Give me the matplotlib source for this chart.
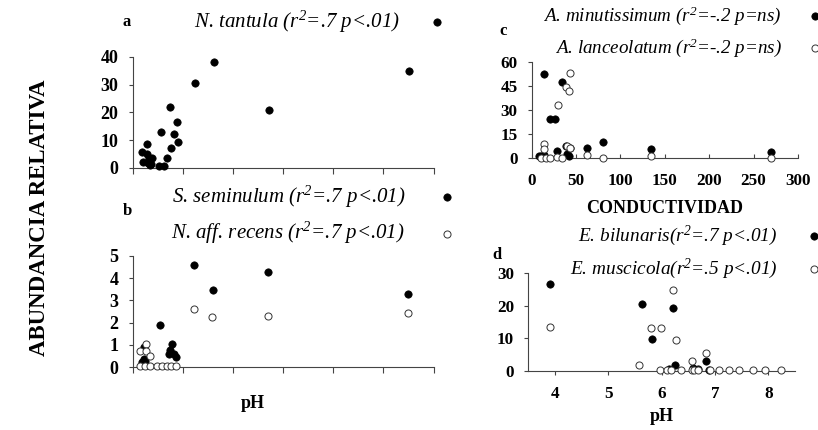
import matplotlib
matplotlib.use('Agg')
import matplotlib.pyplot as plt

plt.rcParams['font.family'] = ['Liberation Serif', 'DejaVu Serif']
plt.rcParams['mathtext.fontset'] = 'custom'
plt.rcParams['mathtext.rm'] = 'Liberation Serif:italic'
plt.rcParams['mathtext.it'] = 'Liberation Serif:italic'

# panel a: N. tantula vs pH
ph_a = [3.19, 3.28, 3.21, 3.29, 3.32, 3.34, 3.39, 3.31, 3.37, 3.52, 3.62, 3.56, 3.68,
        3.75, 3.77, 3.83, 3.88, 3.90, 4.25, 4.63, 5.72, 8.51]
tantula = [5.6, 8.8, 2.0, 5.2, 3.6, 1.0, 3.6, 1.8, 1.6, 0.6, 0.6, 12.9, 3.7,
           22.0, 7.1, 12.3, 16.5, 9.2, 30.6, 38.1, 21.0, 35.1]

# panel b: S. seminulum (filled) / N. aff. recens (open) vs pH
ph_b1 = [3.18, 3.22, 3.24, 3.23, 3.54, 3.73, 3.78, 3.75, 3.83, 3.86, 4.22, 4.60, 5.70, 8.50]
seminulum = [0.23, 0.35, 0.28, 0.9, 1.91, 0.57, 1.02, 0.75, 0.57, 0.45, 4.59, 3.46, 4.26, 3.31]
ph_b2 = [3.14, 3.27, 3.27, 3.35, 3.15, 3.25, 3.35, 3.48, 3.59, 3.68, 3.76, 3.86,
         4.22, 4.59, 5.70, 8.50]
recens = [0.72, 1.05, 0.72, 0.48, 0.03, 0.03, 0.03, 0.03, 0.03, 0.03, 0.03, 0.03,
          2.60, 2.23, 2.29, 2.41]

# panel c: A. minutissimum (filled) / A. lanceolatum (open) vs conductividad
cond_c1 = [14.6, 20.5, 26.7, 34.8, 28.5, 38.8, 43.9, 62.2, 80.5, 134.6, 270, 8.0, 10.5,
           13.9, 39.5, 42.4]
minutissimum = [52.8, 24.2, 24.6, 47.8, 4.1, 7.2, 6.2, 6.2, 9.7, 5.8, 3.5, 1.4, 1.4,
                2.0, 2.7, 1.4]
cond_c2 = [14.6, 13.9, 29.3, 38.4, 42.4, 43.9, 39.5, 43.9, 62.2, 80.5, 134.6, 270,
           10.2, 16.5, 21.2, 28.2, 34.8]
lanceolatum = [8.9, 5.8, 32.9, 44.1, 41.6, 53.4, 7.2, 6.2, 1.7, 0.0, 1.0, 0.2,
               0.0, 0.0, 0.0, 0.6, 0.0]

# panel d: E. bilunaris (filled) / E. muscicola (open) vs pH
ph_d1 = [3.91, 5.63, 5.82, 6.22, 6.26, 6.14, 6.59, 6.68, 6.84, 6.89]
bilunaris = [26.7, 20.5, 9.7, 19.2, 1.9, 0.5, 0.9, 0.7, 3.2, 0.3]
ph_d2 = [3.91, 5.57, 5.80, 5.99, 6.22, 6.27, 6.58, 6.84, 5.97, 6.11, 6.18, 6.36, 6.57,
         6.61, 6.68, 6.91, 7.08, 7.27, 7.46, 7.72, 7.93, 8.23]
muscicola = [13.6, 1.7, 13.3, 13.3, 24.7, 9.6, 3.2, 5.6, 0.4, 0.2, 0.2, 0.2, 0.2,
             0.2, 0.2, 0.2, 0.2, 0.2, 0.2, 0.2, 0.2, 0.2]

W, H = 818, 430
fig = plt.figure(figsize=(W / 100, H / 100), dpi=100)


def px_axes(x0, x1, ytop, ybot):
    return fig.add_axes([x0 / W, 1 - ybot / H, (x1 - x0) / W, (ybot - ytop) / H])


def style(ax, size):
    for s in ['top', 'right']:
        ax.spines[s].set_visible(False)
    for s in ['left', 'bottom']:
        ax.spines[s].set_color('#444444')
        ax.spines[s].set_linewidth(0.8)
    ax.tick_params(labelsize=size, length=3, width=0.8, color='#444444', pad=2)
    ax.tick_params(axis='y', pad=7)
    for lab in ax.get_xticklabels() + ax.get_yticklabels():
        lab.set_fontweight('bold')


filled = dict(marker='o', s=28, c='black', edgecolors='black', linewidths=0.5, clip_on=False, zorder=3)
hollow = dict(marker='o', s=26, facecolors='white', edgecolors='#333333', linewidths=0.7, clip_on=False, zorder=3)


def legend(ax, x, y, size, spacing, pad):
    ax.legend(loc='center right', bbox_to_anchor=(x / W, 1 - y / H), bbox_transform=fig.transFigure,
              frameon=False, markerfirst=False, handlelength=0.6, handletextpad=pad,
              borderpad=0, borderaxespad=0, labelspacing=spacing,
              prop={'family': 'Liberation Serif', 'style': 'italic', 'size': size})


def letter(x, y, s):
    fig.text(x / W, 1 - y / H, s, fontsize=12, fontweight='bold', ha='center', va='center')


# a
ax = px_axes(132.5, 433.5, 57, 168)
ax.scatter(ph_a, tantula, label=r'N. tantula (r$^2$=.7 p<.01)', **filled)
ax.set_xlim(3, 9)
ax.set_ylim(0, 40)
ax.set_yticks([0, 10, 20, 30, 40])
ax.set_xticks([3, 4, 5, 6, 7, 8, 9])
ax.set_xticklabels([])
style(ax, 13)
ax.tick_params(axis='x', length=4)
legend(ax, 443, 22, 15, 0.5, 1.45)
letter(127, 22, 'a')

# b
ax = px_axes(132.5, 433.5, 256, 367)
ax.scatter(ph_b1, seminulum, label=r'S. seminulum (r$^2$=.7 p<.01)', **filled)
ax.scatter(ph_b2, recens, label=r'N. aff. recens (r$^2$=.7 p<.01)', **hollow)
ax.set_xlim(3, 9)
ax.set_ylim(0, 5)
ax.set_yticks([0, 1, 2, 3, 4, 5])
ax.set_xticks([3, 4, 5, 6, 7, 8, 9])
ax.set_xticklabels([])
style(ax, 13)
ax.tick_params(axis='x', length=4)
legend(ax, 453, 215, 15, 0.5, 1.7)
letter(127, 211, 'b')
fig.text(253 / W, 1 - 403 / H, 'pH', fontsize=13, fontweight='bold', ha='center', va='center')

# c
ax = px_axes(531.5, 798, 62, 158)
ax.scatter(cond_c1, minutissimum, label=r'A. minutissimum (r$^2$=-.2 p=ns)', **filled)
ax.scatter(cond_c2, lanceolatum, label=r'A. lanceolatum (r$^2$=-.2 p=ns)', **hollow)
ax.set_xlim(0, 300)
ax.set_ylim(0, 60)
ax.set_yticks([0, 15, 30, 45, 60])
ax.set_xticks([0, 50, 100, 150, 200, 250, 300])
style(ax, 12.3)
ax.tick_params(axis='x', direction='in', pad=11)
ax.set_xlabel('CONDUCTIVIDAD', fontsize=13, fontweight='bold', labelpad=8)
legend(ax, 821, 31.5, 13.7, 0.5, 1.45)
letter(503, 31, 'c')

# d
ax = px_axes(528, 795, 273, 371)
ax.scatter(ph_d1, bilunaris, label=r'E. bilunaris(r$^2$=.7 p<.01)', **filled)
ax.scatter(ph_d2, muscicola, label=r'E. muscicola(r$^2$=.5 p<.01)', **hollow)
ax.set_xlim(3.5, 8.5)
ax.set_ylim(0, 30)
ax.set_yticks([0, 10, 20, 30])
ax.set_xticks([4, 5, 6, 7, 8])
style(ax, 12.3)
ax.tick_params(axis='x', pad=8)
ax.set_xlabel('pH', fontsize=13, fontweight='bold', labelpad=4)
legend(ax, 820, 252.5, 13.9, 0.45, 1.6)
letter(497, 255, 'd')

fig.text(40 / W, 1 - 218 / H, 'ABUNDANCIA RELATIVA', fontsize=16.5, fontweight='bold',
         rotation=90, ha='center', va='center')

fig.savefig('out.png', dpi=100)
